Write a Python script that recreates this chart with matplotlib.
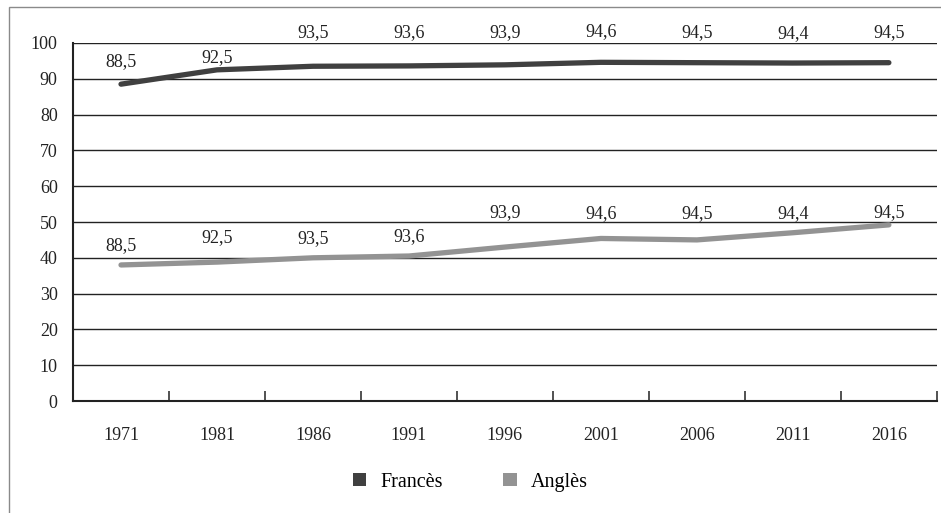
import matplotlib.pyplot as plt
from matplotlib.patches import Rectangle, Patch
import numpy as np

# Data
years = ["1971", "1981", "1986", "1991", "1996", "2001", "2006", "2011", "2016"]
frances = [88.5, 92.5, 93.5, 93.6, 93.9, 94.6, 94.5, 94.4, 94.5]
angles = [38.0, 38.8, 40.0, 40.5, 43.0, 45.4, 45.0, 47.0, 49.2]
# the source chart prints the French values as labels on both lines
labels = ["88,5", "92,5", "93,5", "93,6", "93,9", "94,6", "94,5", "94,4", "94,5"]

# label offsets above each point (points)
off_fr = [16, 9, 24, 24, 23, 22, 22, 21, 22]
off_an = [14, 18, 14, 14, 25, 18, 19, 14, 9]

plt.rcParams['font.family'] = ['Liberation Serif', 'DejaVu Serif']

fig = plt.figure(figsize=(9.41, 5.13), dpi=100)
ax = fig.add_axes([0.0776, 0.2183, 0.918, 0.6979])

x = np.arange(len(years))
ax.plot(x, frances, color='#404040', lw=3.8, solid_capstyle='round', zorder=3)
ax.plot(x, angles, color='#939393', lw=3.8, solid_capstyle='round', zorder=3)

for i in x:
    ax.annotate(labels[i], (x[i], frances[i]), xytext=(0, off_fr[i]),
                textcoords='offset points', ha='center', va='center',
                fontsize=13, color='#222222', annotation_clip=False)
    ax.annotate(labels[i], (x[i], angles[i]), xytext=(0, off_an[i]),
                textcoords='offset points', ha='center', va='center',
                fontsize=13, color='#222222')

ax.set_xlim(-0.5, len(years) - 0.5)
ax.set_ylim(0, 100)
ax.set_yticks(range(0, 101, 10))
ax.set_yticklabels([str(v) for v in range(0, 101, 10)], fontsize=13)
ax.set_xticks(x)
ax.set_xticklabels(years, fontsize=13)
ax.set_xticks(np.arange(0.5, len(years) - 0.5, 1.0).tolist() + [len(years) - 0.5], minor=True)

ax.tick_params(axis='y', length=0, pad=11, colors='#222222')
ax.tick_params(axis='x', which='major', length=0, pad=19, colors='#222222')
ax.tick_params(axis='x', which='minor', direction='in', length=7, width=1.2, color='#333333')

ax.grid(axis='y', color='#222222', lw=1.0)
ax.set_axisbelow(True)
for s in ['top', 'right']:
    ax.spines[s].set_visible(False)
for s in ['left', 'bottom']:
    ax.spines[s].set_color('#222222')
    ax.spines[s].set_linewidth(1.5)

handles = [Patch(facecolor='#404040', label='Francès'),
           Patch(facecolor='#939393', label='Anglès')]
fig.legend(handles=handles, loc='center', bbox_to_anchor=(0.5, 0.06), ncol=2,
           frameon=False, fontsize=14.5, handlelength=0.65, handleheight=0.65,
           columnspacing=3.0, handletextpad=0.7)

# outer frame (cropped at right and bottom in the source)
fig.patches.append(Rectangle((0.0096, -0.1), 1.2, 1.0864, transform=fig.transFigure,
                             fill=False, edgecolor='#8a8a8a', lw=1.0))

fig.savefig('out.png', dpi=100)
